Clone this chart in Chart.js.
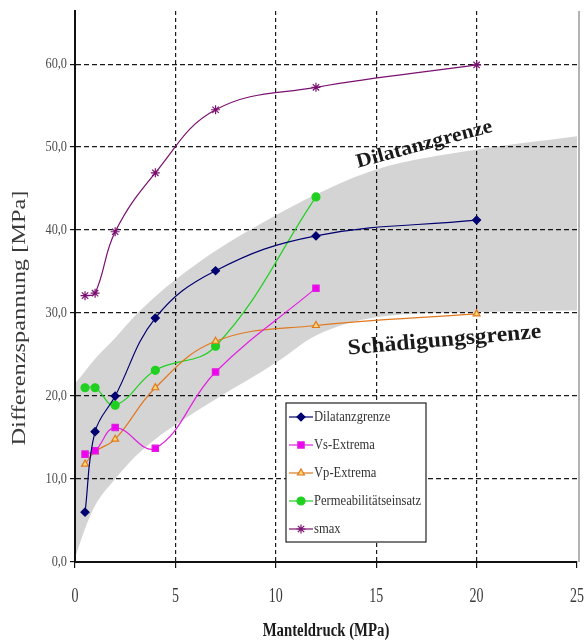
<!DOCTYPE html>
<html>
<head>
<meta charset="utf-8">
<script src="https://cdn.jsdelivr.net/npm/chart.js@4.4.1/dist/chart.umd.min.js"></script>
<style>
  html, body { margin: 0; padding: 0; background: #fff; }
  canvas { display: block; }
</style>
</head>
<body>
<canvas id="c" width="586" height="641"></canvas>
<script>
// Manteldruck (MPa) der Versuche
const druck = [0.5, 1, 2, 4, 7, 12, 20];
const druckKurz = [0.5, 1, 2, 4, 7, 12];

// Differenzspannung (MPa) je Kriterium
const dilatanz = [6.0, 15.7, 20.0, 29.4, 35.1, 39.3, 41.2];
const vsExtrema = [13.0, 13.4, 16.2, 13.7, 22.9, 33.0];
const vpExtrema = [11.8, 13.3, 14.8, 21.0, 26.6, 28.5, 29.9];
const permeabilitaet = [21.0, 21.0, 18.9, 23.1, 26.0, 44.0];
const smax = [32.1, 32.4, 39.8, 46.9, 54.5, 57.2, 59.9];

// graues Band zwischen Schädigungs- und Dilatanzgrenze
const bandX = [0, 0.5, 1, 2, 3, 4, 5, 7, 10, 12, 15, 20, 25];
const bandOben = [21.5, 23, 24.5, 27, 29.7, 32, 34, 37.5, 41.8, 44.3, 47.3, 49.7, 51.3];
const bandUnten = [0.5, 4, 6.8, 10, 12.7, 14.8, 16.5, 19.6, 24, 27.3, 29.5, 30.1, 30.3];

const xTicks = [0, 5, 10, 15, 20, 25];
const yTicks = [0, 10, 20, 30, 40, 50, 60];

function pts(xs, ys) {
  return ys.map((y, i) => ({ x: xs[i], y: y }));
}

function serie(label, xs, ys, color, style, fill, radius) {
  return {
    label: label,
    data: pts(xs, ys),
    borderColor: color,
    borderWidth: 1.2,
    backgroundColor: fill,
    pointStyle: style,
    pointRadius: radius,
    pointBorderColor: color,
    pointBorderWidth: 1.2,
    pointBackgroundColor: fill,
    tension: 0.4,
    fill: false,
    order: 1
  };
}

// gestauchte Schrift, wie im Excel-Diagramm
function schmal(ctx, text, x, y, font, sx, align, color) {
  ctx.save();
  ctx.font = font;
  ctx.fillStyle = color;
  ctx.textBaseline = 'middle';
  ctx.textAlign = 'left';
  const w = ctx.measureText(text).width * sx;
  const x0 = align === 'right' ? x - w : align === 'center' ? x - w / 2 : x;
  ctx.translate(x0, y);
  ctx.scale(sx, 1);
  ctx.fillText(text, 0, 0);
  ctx.restore();
}

function schraeg(ctx, text, x, y, angle, font, width, color) {
  ctx.save();
  ctx.font = font;
  const w = ctx.measureText(text).width;
  ctx.translate(x, y);
  ctx.rotate(angle * Math.PI / 180);
  ctx.scale(width / w, 1);
  ctx.fillStyle = color;
  ctx.textAlign = 'center';
  ctx.textBaseline = 'middle';
  ctx.fillText(text, 0, 0);
  ctx.restore();
}

const beschriftung = {
  id: 'beschriftung',
  afterDraw(chart) {
    const ctx = chart.ctx;
    const a = chart.chartArea;
    const xs = chart.scales.x;
    const ys = chart.scales.y;

    // rechter Rahmen
    ctx.save();
    ctx.strokeStyle = '#9a9a9a';
    ctx.lineWidth = 1.5;
    ctx.beginPath();
    ctx.moveTo(a.right + 2, a.top);
    ctx.lineTo(a.right + 2, a.bottom);
    ctx.stroke();
    ctx.restore();

    yTicks.forEach(v => {
      schmal(ctx, v.toFixed(1).replace('.', ','), a.left - 8, ys.getPixelForValue(v),
        '15px "Liberation Sans Narrow"', 0.82, 'right', '#4a4a4a');
    });
    xTicks.forEach(v => {
      schmal(ctx, String(v), xs.getPixelForValue(v), a.bottom + 35,
        '20px "Liberation Sans Narrow"', 0.7, 'center', '#3a3a3a');
    });
    schmal(ctx, 'Manteldruck (MPa)', (a.left + a.right) / 2, a.bottom + 69,
      'bold 18px "Liberation Sans Narrow"', 0.82, 'center', '#1a1a1a');

    // Achsentitel links
    schraeg(ctx, 'Differenzspannung [MPa]', 20, 318, -90, '19px "Liberation Serif"', 255, '#3a3a3a');

    schraeg(ctx, 'Dilatanzgrenze', xs.getPixelForValue(17.4), ys.getPixelForValue(50.3), -15,
      'bold 20px "Liberation Serif"', 140, '#1a1a1a');
    schraeg(ctx, 'Schädigungsgrenze', xs.getPixelForValue(18.4), ys.getPixelForValue(26.7), -5,
      'bold 22px "Liberation Serif"', 194, '#1a1a1a');

    // Legende im Diagramm
    const lx = a.left + 211;
    const ly = a.top + 392;
    ctx.save();
    ctx.fillStyle = '#fff';
    ctx.fillRect(lx, ly, 140, 139);
    ctx.strokeStyle = '#222';
    ctx.lineWidth = 1.2;
    ctx.strokeRect(lx, ly, 140, 139);
    ctx.restore();
    chart.data.datasets.filter(d => d.order === 1).forEach((d, i) => {
      const yy = ly + 14 + i * 28;
      ctx.save();
      ctx.strokeStyle = d.borderColor;
      ctx.lineWidth = 1.2;
      ctx.beginPath();
      ctx.moveTo(lx + 3, yy);
      ctx.lineTo(lx + 27, yy);
      ctx.stroke();
      ctx.fillStyle = d.pointBackgroundColor;
      Chart.helpers.drawPoint(ctx, { pointStyle: d.pointStyle, radius: d.pointRadius, rotation: 0, borderWidth: 1.2 }, lx + 15, yy);
      ctx.restore();
      schmal(ctx, d.label, lx + 28, yy, '15px "Liberation Sans Narrow"', 0.84, 'left', '#333');
    });
  }
};

new Chart(document.getElementById('c'), {
  type: 'line',
  data: {
    datasets: [
      serie('Dilatanzgrenze', druck, dilatanz, '#000070', 'rectRot', '#000070', 4),
      serie('Vs-Extrema', druckKurz, vsExtrema, '#e020e0', 'rect', '#f000f0', 4.5),
      serie('Vp-Extrema', druck, vpExtrema, '#e0781e', 'triangle', '#ffd870', 4),
      serie('Permeabilitätseinsatz', druckKurz, permeabilitaet, '#20d020', 'circle', '#20d020', 4),
      serie('smax', druck, smax, '#7a1070', 'star', '#7a1070', 4.5),
      {
        label: 'Dilatanzgrenze (Band)',
        data: pts(bandX, bandOben),
        borderWidth: 0,
        pointRadius: 0,
        cubicInterpolationMode: 'monotone',
        backgroundColor: 'rgba(0,0,0,0.17)',
        fill: '+1',
        order: 5
      },
      {
        label: 'Schädigungsgrenze (Band)',
        data: pts(bandX, bandUnten),
        borderWidth: 0,
        pointRadius: 0,
        cubicInterpolationMode: 'monotone',
        fill: false,
        order: 6
      }
    ]
  },
  options: {
    responsive: false,
    animation: false,
    layout: { padding: { left: 0, top: 11, right: 9, bottom: 0 } },
    plugins: { legend: { display: false }, tooltip: { enabled: false } },
    scales: {
      x: {
        type: 'linear',
        min: 0,
        max: 25,
        afterBuildTicks: s => { s.ticks = xTicks.map(v => ({ value: v })); },
        afterFit: s => { s.height = 79; },
        ticks: { display: false },
        border: { color: '#111', width: 2, dash: [4, 3] },
        grid: {
          color: c => (c.tick && (c.tick.value === 0 || c.tick.value === 25)) ? 'rgba(0,0,0,0)' : '#1a1a1a',
          lineWidth: 1.2,
          tickColor: '#111',
          tickBorderDash: [],
          tickLength: 6
        }
      },
      y: {
        min: 0,
        max: 66.4,
        afterBuildTicks: s => { s.ticks = yTicks.map(v => ({ value: v })); },
        afterFit: s => { s.width = 75; },
        ticks: { display: false },
        border: { color: '#111', width: 2, dash: [5, 3] },
        grid: {
          color: c => (c.tick && c.tick.value === 0) ? 'rgba(0,0,0,0)' : '#1a1a1a',
          lineWidth: 1.2,
          tickColor: '#111',
          tickBorderDash: [],
          tickLength: 5
        }
      }
    }
  },
  plugins: [beschriftung]
});
</script>
</body>
</html>
